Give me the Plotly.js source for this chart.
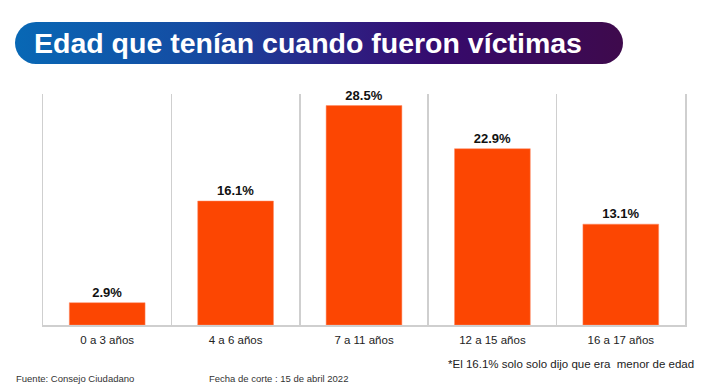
<!DOCTYPE html>
<html>
<head>
<meta charset="utf-8">
<script src="https://cdn.plot.ly/plotly-3.0.1.min.js"></script>
<style>html,body{margin:0;padding:0;background:#fff;}#chart{width:727px;height:390px;}</style>
</head>
<body>
<div id="chart"></div>
<script>
const categories = ['0 a 3 años', '4 a 6 años', '7 a 11 años', '12 a 15 años', '16 a 17 años'];
const values = [2.9, 16.1, 28.5, 22.9, 13.1];
const titleText = 'Edad que tenían cuando fueron víctimas';
const noteText = '*El 16.1% solo solo dijo que era\u00a0 menor de edad';
const sourceText = 'Fuente: Consejo Ciudadano';
const dateText = 'Fecha de corte : 15 de abril 2022';

const W = 727, H = 390;
const L = 43, R = 685, T = 94, B = 325;
const pw = R - L, ph = B - T;
const px = x => (x - L) / pw;
const py = y => (B - y) / ph;

const svg = '<svg xmlns="http://www.w3.org/2000/svg" width="608" height="42" viewBox="0 0 608 42" preserveAspectRatio="none">' +
  '<defs><linearGradient id="g" x1="0" y1="0" x2="1" y2="0">' +
  '<stop offset="0" stop-color="#0868B5"/>' +
  '<stop offset="0.3" stop-color="#154BA2"/>' +
  '<stop offset="0.55" stop-color="#2E1E82"/>' +
  '<stop offset="0.7" stop-color="#360A6C"/>' +
  '<stop offset="1" stop-color="#3E0A4C"/>' +
  '</linearGradient></defs>' +
  '<rect x="0" y="0" width="608" height="42" rx="21" ry="21" fill="url(#g)"/></svg>';
const svgUri = 'data:image/svg+xml;charset=utf-8,' + encodeURIComponent(svg);

const trace = {
  type: 'bar',
  x: categories,
  y: values,
  marker: {color: '#FC4602', line: {color: '#FF8A66', width: 0.5}},
  texttemplate: '%{y:.1f}%',
  textposition: 'outside',
  cliponaxis: false,
  textfont: {family: 'Liberation Sans, Arial, sans-serif', size: 13, color: '#111', weight: 'bold'},
  hoverinfo: 'none'
};

const layout = {
  width: W, height: H,
  margin: {l: L, r: W - R, t: T, b: H - B, pad: 0},
  paper_bgcolor: '#fff', plot_bgcolor: '#fff',
  showlegend: false,
  bargap: 0.41,
  xaxis: {
    type: 'category',
    tickson: 'boundaries',
    showgrid: true, gridcolor: '#CFCFCF', gridwidth: 1.5,
    showline: true, linecolor: '#CFCFCF', linewidth: 1.5,
    ticks: '', ticklen: 0,
    tickfont: {family: 'Liberation Sans, Arial, sans-serif', size: 11.5, color: '#222'},
    ticklabelstandoff: 4,
    fixedrange: true
  },
  yaxis: {
    range: [0, 30], showticklabels: false, ticks: '', showgrid: false, zeroline: false,
    showline: true, mirror: true, linecolor: '#CFCFCF', linewidth: 1.5, fixedrange: true
  },
  images: [{
    source: svgUri, xref: 'paper', yref: 'paper',
    x: px(15), y: py(22), sizex: 608 / pw, sizey: 42 / ph,
    xanchor: 'left', yanchor: 'top', sizing: 'stretch', layer: 'above'
  }],
  annotations: [
    {text: titleText, xref: 'paper', yref: 'paper', x: px(32), y: py(43), xanchor: 'left', yanchor: 'middle',
     showarrow: false, font: {family: 'Liberation Sans, Arial, sans-serif', size: 28.5, color: '#fff', weight: 'bold'}},
    {text: noteText, xref: 'paper', yref: 'paper', x: px(696), y: py(364), xanchor: 'right', yanchor: 'middle',
     showarrow: false, font: {family: 'Liberation Sans, Arial, sans-serif', size: 11.5, color: '#222'}},
    {text: sourceText, xref: 'paper', yref: 'paper', x: px(14), y: py(378), xanchor: 'left', yanchor: 'middle',
     showarrow: false, font: {family: 'Liberation Sans, Arial, sans-serif', size: 9.5, color: '#333'}},
    {text: dateText, xref: 'paper', yref: 'paper', x: px(207), y: py(378), xanchor: 'left', yanchor: 'middle',
     showarrow: false, font: {family: 'Liberation Sans, Arial, sans-serif', size: 9.5, color: '#333'}}
  ]
};

Plotly.newPlot('chart', [trace], layout, {staticPlot: true, displayModeBar: false});
</script>
</body>
</html>
